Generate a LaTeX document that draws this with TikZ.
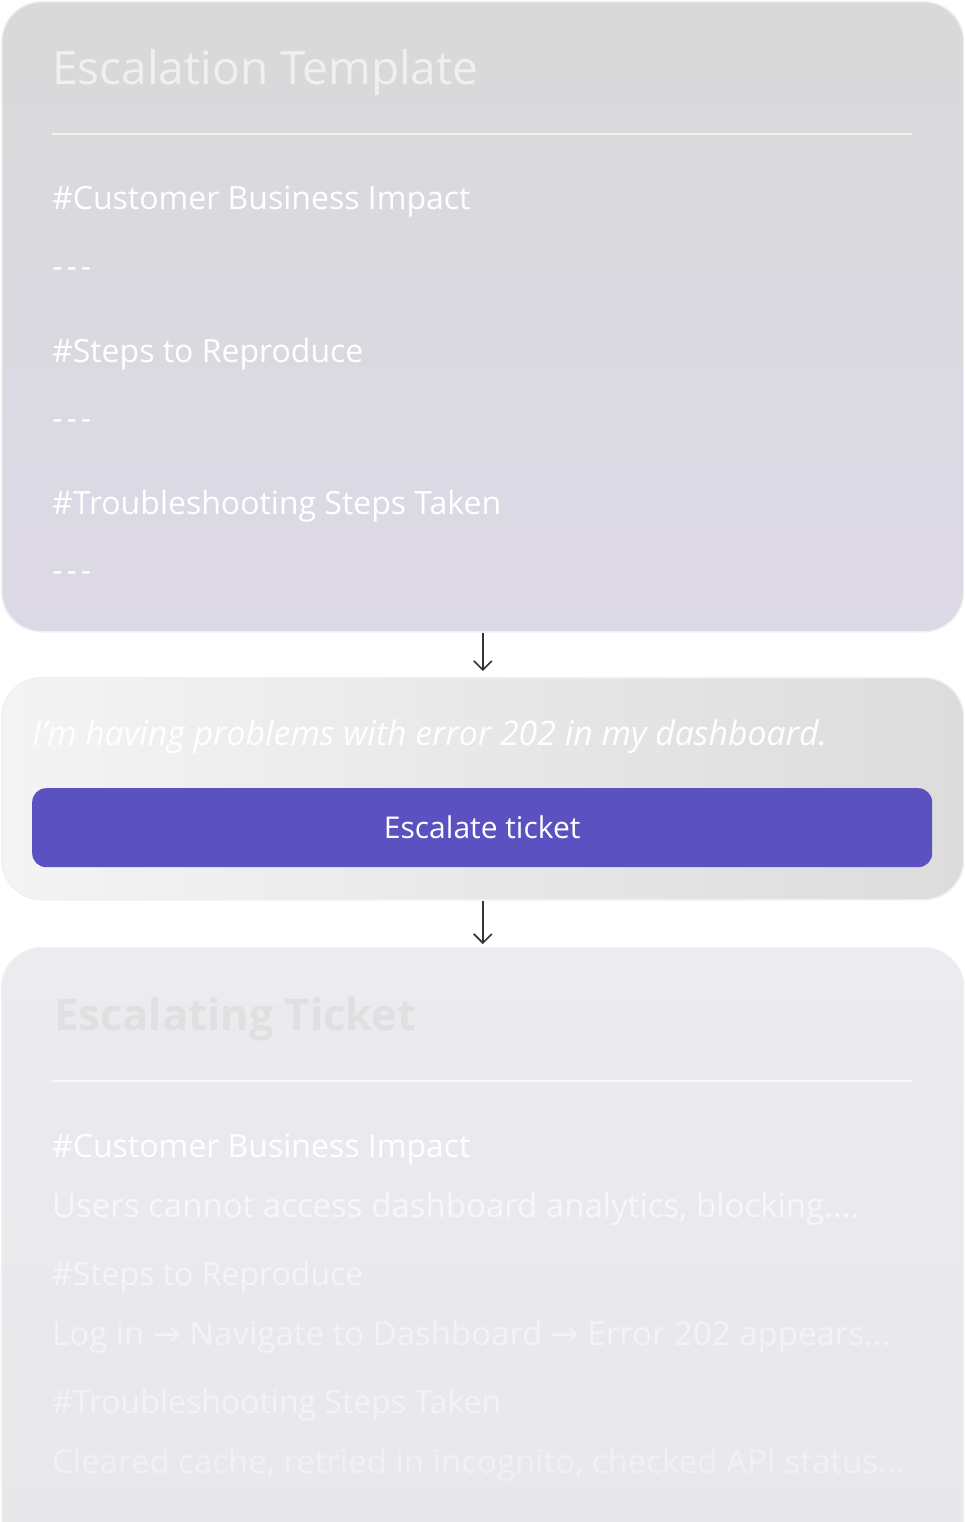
\documentclass[tikz,border=0pt]{standalone}
\usepackage{fontspec}
\setmainfont{Open Sans}
\newfontfamily\arrowfont{DejaVu Sans}
\usepackage{tikz}
\usetikzlibrary{positioning,arrows.meta}
\definecolor{cardtop}{RGB}{217,217,217}
\definecolor{cardbot}{RGB}{220,217,230}
\definecolor{boxleft}{RGB}{244,244,244}
\definecolor{boxright}{RGB}{220,220,220}
\definecolor{lasttop}{RGB}{235,235,240}
\definecolor{lastbot}{RGB}{232,232,234}
\definecolor{btnpurple}{RGB}{92,81,192}
\definecolor{arrowgray}{RGB}{51,51,60}
\newcommand{\rarr}{{\arrowfont →}}
\newcommand{\sepdash}{-\kern4pt-\kern4pt-}
\tikzset{
    card/.style={rounded corners=40pt, draw=white!70!gray!40, line width=1.5pt, inner sep=0pt},
    heading/.style={anchor=base west, inner sep=0pt, font=\fontsize{32}{38}\selectfont},
    bodytext/.style={anchor=base west, inner sep=0pt, font=\fontsize{33}{39}\selectfont},
    bigtitle/.style={anchor=base west, inner sep=0pt, font=\fontsize{46}{54}\selectfont},
    flow/.style={-{Straight Barb[length=9pt,width=18pt]}, draw=arrowgray, line width=1.6pt},
}
\begin{document}
\begin{tikzpicture}[x=1pt,y=-1pt]
        \useasboundingbox (0,0) rectangle (964,1522);
        \clip (0,0) rectangle (964,1522);
        % template card
        \node[card, top color=cardtop, bottom color=cardbot, minimum width=962pt, minimum height=630pt, anchor=north west] (template) at (1,1) {};
        \node[bigtitle, text=white!88!gray] (ttitle) at (52,85) {Escalation Template};
        \draw[white!90!gray, line width=1.5pt] (52,134) -- (912,134);
        \node[heading, text=white] (timpact) at (52,210) {\#Customer Business Impact};
        \node[heading, text=white] (tdash1) at (52,277) {\sepdash};
        \node[heading, text=white] (tsteps) at (52,362) {\#Steps to Reproduce};
        \node[heading, text=white] (tdash2) at (52,429) {\sepdash};
        \node[heading, text=white] (ttrouble) at (52,514) {\#Troubleshooting Steps Taken};
        \node[heading, text=white] (tdash3) at (52,581) {\sepdash};
        % input card
        \node[card, left color=boxleft, right color=boxright, minimum width=962pt, minimum height=222pt, anchor=north west] (input) at (1,677) {};
        \node[bodytext, text=white, font=\fontsize{33.8}{40}\selectfont\itshape] (message) at (32,745) {I'm having problems with error 202 in my dashboard.};
        \node[fill=btnpurple, rounded corners=14pt, minimum width=900pt, minimum height=79pt, anchor=north west, inner sep=0pt,
              text=white, font=\fontsize{30}{36}\selectfont] (button) at (32,788) {Escalate ticket};
        % result card
        \node[card, top color=lasttop, bottom color=lastbot, minimum width=962pt, minimum height=640pt, anchor=north west] (result) at (1,947) {};
        \node[bigtitle, text=black!12, font=\fontsize{43.5}{52}\selectfont\bfseries] (rtitle) at (54,1030) {Escalating Ticket};
        \draw[white!70!lasttop, line width=1.2pt] (52,1081) -- (912,1081);
        \node[heading, text=white] (rimpact) at (52,1157) {\#Customer Business Impact};
        \node[bodytext, text=white!60!lasttop] (rimpacttext) at (52,1217) {Users cannot access dashboard analytics, blocking....};
        \node[heading, text=white!50!lasttop] (rsteps) at (52,1285) {\#Steps to Reproduce};
        \node[bodytext, text=white!40!lasttop] (rstepstext) at (52,1345) {Log in \rarr{} Navigate to Dashboard \rarr{} Error 202 appears...};
        \node[heading, text=white!40!lasttop] (rtrouble) at (52,1413) {\#Troubleshooting Steps Taken};
        \node[bodytext, text=white!30!lasttop] (rtroubletext) at (52,1473) {Cleared cache, retried in incognito, checked API status...};
        % connectors
        \draw[flow] (template.south) -- ([yshift=6pt]input.north);
        \draw[flow] (input.south) -- ([yshift=3pt]result.north);
\end{tikzpicture}
\end{document}
